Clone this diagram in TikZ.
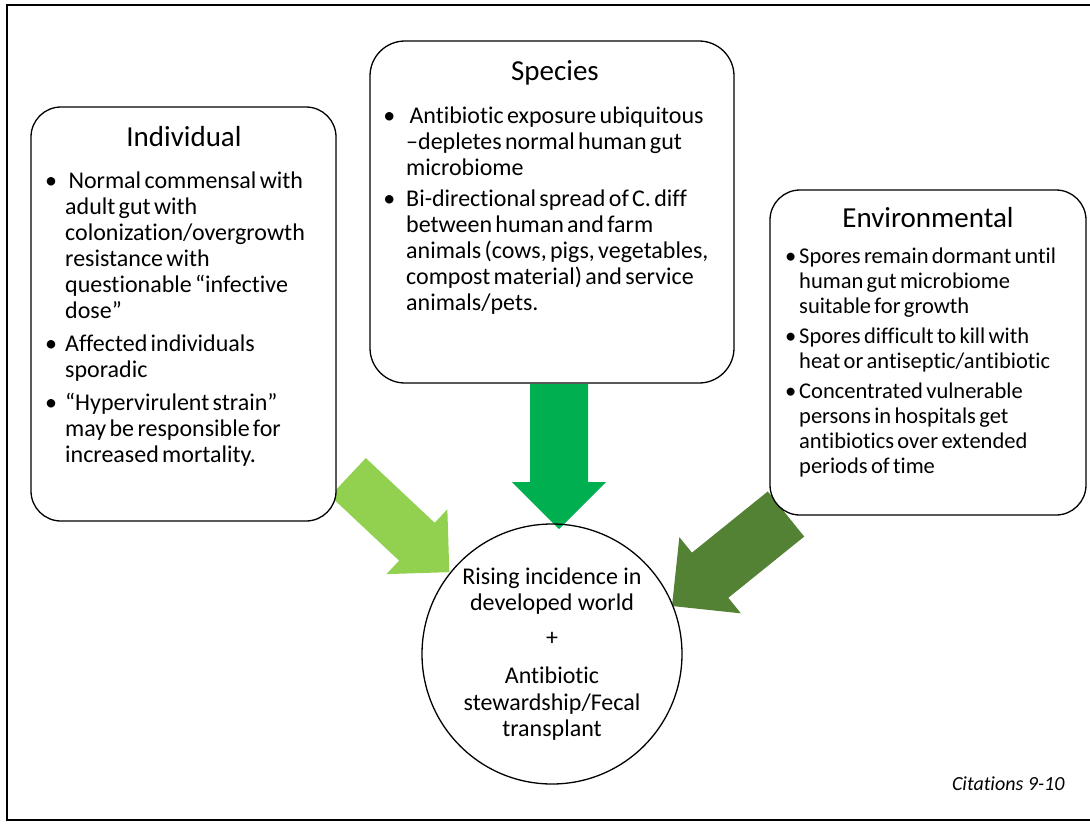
\documentclass[tikz,border=0pt]{standalone}
\usepackage{fontspec}
\setmainfont{Carlito}[Ligatures=NoCommon]
\usepackage{enumitem}
\usetikzlibrary{positioning}
\definecolor{lightgrn}{HTML}{92D050}
\definecolor{midgrn}{HTML}{00B050}
\definecolor{darkgrn}{HTML}{548235}

\begin{document}
\begin{tikzpicture}[x=1pt,y=-1pt]
\tikzstyle{box} = [draw, line width=1.3pt, rounded corners=30pt, fill=white]
\tikzstyle{head} = [font=\fontsize{29}{32}\selectfont, inner sep=0pt]
\tikzstyle{body} = [anchor=north west, align=left, inner sep=0pt, text width=420pt]
\tikzstyle{result} = [draw, circle, line width=1.3pt, minimum size=260pt]
\def\bodyfont{\fontsize{24}{26}\selectfont}

\useasboundingbox (0,0) rectangle (1090,823);
\draw[line width=2.5pt] (7,5) rectangle (1100,820);

%block arrows
\foreach \col/\x/\y/\ang/\len/\s/\h in {lightgrn/348/477/-43.2/139/26/44.5, midgrn/559/384/-90/145/29/47, darkgrn/786/514/218.9/146.5/29/49}
	\fill[\col, shift={(\x,\y)}, rotate=\ang] (0,-\s) -- (\len-\h,-\s) -- (\len-\h,-\h) -- (\len,0) -- (\len-\h,\h) -- (\len-\h,\s) -- (0,\s) -- cycle;

%boxes
\node[box, minimum width=305pt, minimum height=414pt] (indiv) at (183.5,314) {};
\node[box, minimum width=364pt, minimum height=342pt, rounded corners=35pt] (species) at (552,212) {};
\node[box, minimum width=316pt, minimum height=325pt] (env) at (928,352.5) {};
\node[result] (outcome) at (552,654) {};

%titles
\node[head] (indiv title) at (184,137) {Individual};
\node[head] (species title) at (555,73) {Species};
\node[head] (env title) at (928,218) {Environmental};

%bullets
\node[body] (indiv text) at (31,162) {\bodyfont
\begin{itemize}[label=\textbullet, leftmargin=34pt, labelsep=8pt, itemsep=7pt, topsep=0pt, parsep=0pt, partopsep=0pt]
\item \ Normal commensal with\\ adult gut with\\ colonization/overgrowth\\ resistance with\\ questionable “infective\\ dose”
\item Affected individuals\\ sporadic
\item “Hypervirulent strain”\\ may be responsible for\\ increased mortality.
\end{itemize}};

\node[body] (species text) at (370,97) {\bodyfont
\begin{itemize}[label=\textbullet, leftmargin=36pt, labelsep=11pt, itemsep=5pt, topsep=0pt, parsep=0pt, partopsep=0pt]
\item \ Antibiotic exposure ubiquitous\\ –depletes normal human gut\\ microbiome
\item Bi-directional spread of C. diff\\ between human and farm\\ animals (cows, pigs, vegetables,\\ compost material) and service\\ animals/pets.
\end{itemize}};

\node[body] (env text) at (770,238) {\fontsize{22.5}{25}\selectfont
\begin{itemize}[label=\textbullet, leftmargin=29pt, labelsep=3pt, itemsep=5pt, topsep=0pt, parsep=0pt, partopsep=0pt]
\item Spores remain dormant until\\ human gut microbiome\\ suitable for growth
\item Spores difficult to kill with\\ heat or antiseptic/antibiotic
\item Concentrated vulnerable\\ persons in hospitals get\\ antibiotics over extended\\ periods of time
\end{itemize}};

\node[align=center, font=\fontsize{24}{26.5}\selectfont] (outcome text) at (outcome) {Rising incidence in\\ developed world\\[8.5pt] +\\[11.5pt] Antibiotic\\ stewardship/Fecal\\ transplant};

\node[anchor=east, font=\fontsize{20}{24}\selectfont\itshape] (cite) at (1068,784) {Citations 9-10};
\end{tikzpicture}
\end{document}
